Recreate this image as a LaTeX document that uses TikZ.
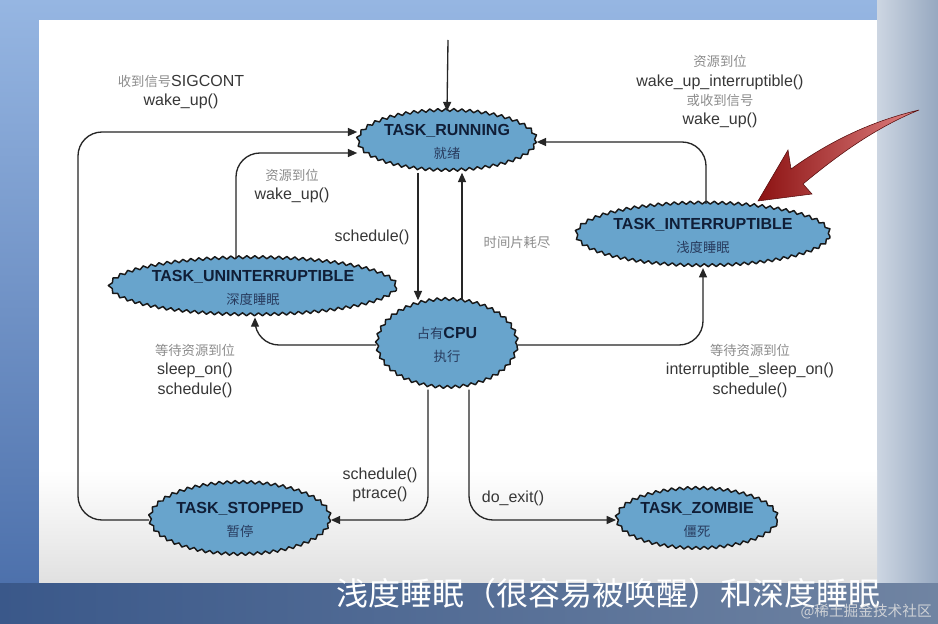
\documentclass[tikz,border=0pt]{standalone}
\usepackage{fontspec}
\setmainfont{Liberation Sans}
\newfontfamily\cjk{Noto Sans CJK SC}
\usetikzlibrary{shapes.geometric,decorations.pathmorphing,arrows.meta}

\definecolor{cloudblue}{RGB}{104,164,204}
\definecolor{nodetext}{RGB}{16,30,55}
\definecolor{nodecjk}{RGB}{40,60,95}
\definecolor{labelgray}{RGB}{55,55,55}
\definecolor{cjkgray}{RGB}{140,140,140}
\definecolor{bgtop}{RGB}{150,182,226}
\definecolor{bgbot}{RGB}{72,108,168}
\definecolor{stripleft}{RGB}{205,214,226}
\definecolor{stripright}{RGB}{150,168,192}
\definecolor{bandleft}{RGB}{58,88,138}
\definecolor{bandright}{RGB}{112,132,162}
\definecolor{arrowdark}{RGB}{140,18,18}
\definecolor{arrowlight}{RGB}{225,130,130}

\newcommand{\zh}[1]{{\cjk\fontsize{10}{14.5}\selectfont\color{cjkgray}#1}}
\newcommand{\stlab}[2]{{\bfseries #1}\\{\cjk\fontsize{10}{12}\selectfont\color{nodecjk}#2}}

\begin{document}
\begin{tikzpicture}[x=0.75pt, y=-0.75pt,
    state_node/.style={ellipse, fill=cloudblue, draw=black!90, line width=1.1pt, line join=round, decorate, decoration={snake, segment length=6pt, amplitude=1.1pt}, inner sep=0pt, align=center, text=nodetext, font=\fontsize{12}{17}\selectfont},
    lbl_text/.style={align=center, inner sep=0pt, text=labelgray, font=\fontsize{12}{14.5}\selectfont},
    conn/.style={draw=black!85, line width=1pt, rounded corners=18pt, -{Triangle[length=7pt,width=6pt]}}]
    \useasboundingbox (0,0) rectangle (938,624);
    % slide background
    \shade[top color=bgtop, bottom color=bgbot] (0,0) rectangle (938,624);
    \shade[left color=stripleft, right color=stripright] (877,0) rectangle (938,583);
    \fill[white] (39,20) rectangle (877,470);
    \shade[top color=white, bottom color=black!12!white] (39,470) rectangle (877,583);
    \shade[left color=bandleft, right color=bandright] (0,583) rectangle (938,624);

    % states
    \node[state_node, minimum width=107pt, minimum height=45pt] (run) at (447,142) {\stlab{TASK\_RUNNING}{就绪}};
    \node[state_node, minimum width=180pt, minimum height=43pt] (unint) at (253,288) {\stlab{TASK\_UNINTERRUPTIBLE}{深度睡眠}};
    \node[state_node, minimum width=105pt, minimum height=66pt] (cpu) at (447,345) {{\cjk\fontsize{10}{12}\selectfont\color{nodecjk}占有}{\bfseries CPU}\\{\cjk\fontsize{10}{12}\selectfont\color{nodecjk}执行}};
    \node[state_node, minimum width=162pt, minimum height=47pt] (intr) at (703,236) {\stlab{TASK\_INTERRUPTIBLE}{浅度睡眠}};
    \node[state_node, minimum width=120pt, minimum height=54pt] (stop) at (240,520) {\stlab{TASK\_STOPPED}{暂停}};
    \node[state_node, minimum width=105pt, minimum height=45pt] (zomb) at (697,520) {\stlab{TASK\_ZOMBIE}{僵死}};

    % transitions
    \coordinate (entry) at (448,40);
    \draw[conn] (entry) -- (run.north);
    \draw[conn] (stop.west) -- (78,520) -- (78,132) -- (run.west |- 0,132);
    \draw[conn] (unint.north -| 236,0) -- (236,153) -- (run.west |- 0,153);
    \draw[conn] (run.south -| 418,0) -- (cpu.north -| 418,0);
    \draw[conn] (cpu.north -| 462,0) -- (run.south -| 462,0);
    \draw[conn] (cpu.west) -- (255,345) -- (unint.south -| 255,0);
    \draw[conn] (cpu.east) -- (703,345) -- (intr.south);
    \draw[conn] (intr.north -| 706,0) -- (706,142) -- (run.east);
    \draw[conn] (cpu.south -| 428,0) -- (428,520) -- (stop.east);
    \draw[conn] (cpu.south -| 469,0) -- (469,520) -- (zomb.west);

    % labels
    \node[lbl_text] (sigcont) at (181,92) {\zh{收到信号}SIGCONT\\wake\_up()};
    \node[lbl_text] (wakeup) at (292,186) {\zh{资源到位}\\wake\_up()};
    \node[lbl_text] (sched) at (372,237) {schedule()};
    \node[lbl_text] (slice) at (517,242) {\zh{时间片耗尽}};
    \node[lbl_text] (wakeint) at (720,92) {\zh{资源到位}\\wake\_up\_interruptible()\\\zh{或收到信号}\\wake\_up()};
    \node[lbl_text] (sleepon) at (195,371) {\zh{等待资源到位}\\sleep\_on()\\schedule()};
    \node[lbl_text] (sleepint) at (750,371) {\zh{等待资源到位}\\interruptible\_sleep\_on()\\schedule()};
    \node[lbl_text] (ptrace) at (380,485) {schedule()\\ptrace()};
    \node[lbl_text] (doexit) at (513,498) {do\_exit()};

    % red pointer
    \shade[left color=arrowdark, right color=arrowlight, draw=arrowdark!60!black, line width=0.4pt]
      (758,201) -- (788,150) -- (791,169) .. controls (830,141) and (872,121) .. (919,110)
      .. controls (875,128) and (838,155) .. (803,184) -- (812,194) -- cycle;

    % caption
    \node[anchor=west, text=white, font=\cjk\fontsize{24}{24}\selectfont, inner sep=0pt] (caption) at (336,593) {浅度睡眠（很容易被唤醒）和深度睡眠};
    \node[anchor=east, text=white!75!gray, opacity=0.85, font=\cjk\fontsize{11}{11}\selectfont, inner sep=0pt] (mark) at (932,612) {@稀土掘金技术社区};
\end{tikzpicture}
\end{document}
